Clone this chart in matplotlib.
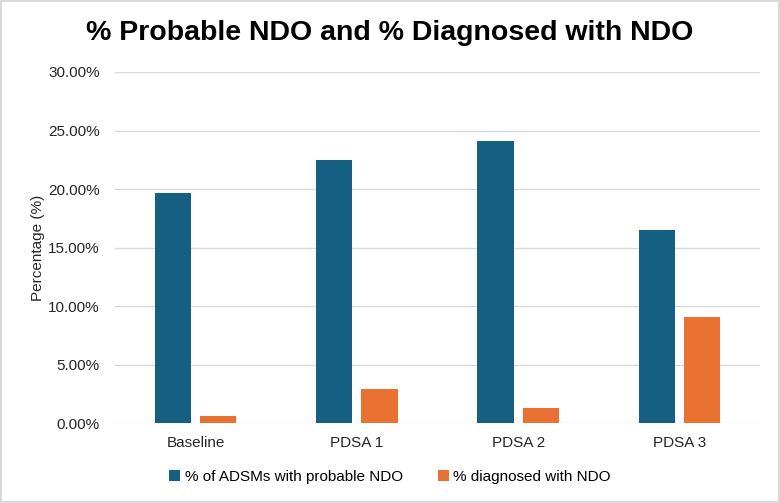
import matplotlib
matplotlib.use("Agg")
import matplotlib.pyplot as plt
from matplotlib.patches import Rectangle
import numpy as np

plt.rcParams['font.family'] = ['Liberation Sans', 'DejaVu Sans']

categories = ["Baseline", "PDSA 1", "PDSA 2", "PDSA 3"]
probable_ndo = [19.7, 22.5, 24.1, 16.5]     # % of ADSMs with probable NDO
diagnosed_ndo = [0.62, 2.92, 1.35, 9.06]    # % diagnosed with NDO
series_names = ["% of ADSMs with probable NDO", "% diagnosed with NDO"]
colors = ["#156082", "#E97132"]

fig = plt.figure(figsize=(7.8, 5.03), dpi=100)
ax = fig.add_axes([0.1474, 0.1584, 0.827, 0.6985])

x = np.arange(len(categories))
w = 0.225
off = 0.14
ax.bar(x - off, probable_ndo, w, color=colors[0], label=series_names[0], zorder=3)
ax.bar(x + off, diagnosed_ndo, w, color=colors[1], label=series_names[1], zorder=3)

ax.set_xlim(-0.5, len(categories) - 0.5)
ax.set_ylim(0, 30)
ax.set_yticks(np.arange(0, 31, 5))
ax.set_yticklabels([f"{v:.2f}%" for v in np.arange(0, 31, 5)])
ax.set_xticks(x)
ax.set_xticklabels(categories)
ax.tick_params(axis='both', length=0, labelsize=11, colors="#262626")
ax.tick_params(axis='y', pad=11)
ax.tick_params(axis='x', pad=9)
ax.grid(axis='y', color="#d9d9d9", linewidth=1, zorder=0)
for s in ax.spines.values():
    s.set_visible(False)

ax.set_ylabel("Percentage (%)", fontsize=11, color="#262626", labelpad=2)

fig.text(0.5, 0.935, "% Probable NDO and % Diagnosed with NDO", fontsize=20.5,
         fontweight='bold', ha='center', va='center')

fig.legend(loc='center', bbox_to_anchor=(0.5, 0.052), ncol=2, frameon=False,
           fontsize=11, handlelength=0.7, handleheight=0.7, handletextpad=0.3,
           columnspacing=2.3)

fig.patches.append(Rectangle((0.001, 0.001), 0.998, 0.998, transform=fig.transFigure,
                             fill=False, edgecolor="#d9d9d9", linewidth=1.5))

fig.savefig("out.png", dpi=100)
